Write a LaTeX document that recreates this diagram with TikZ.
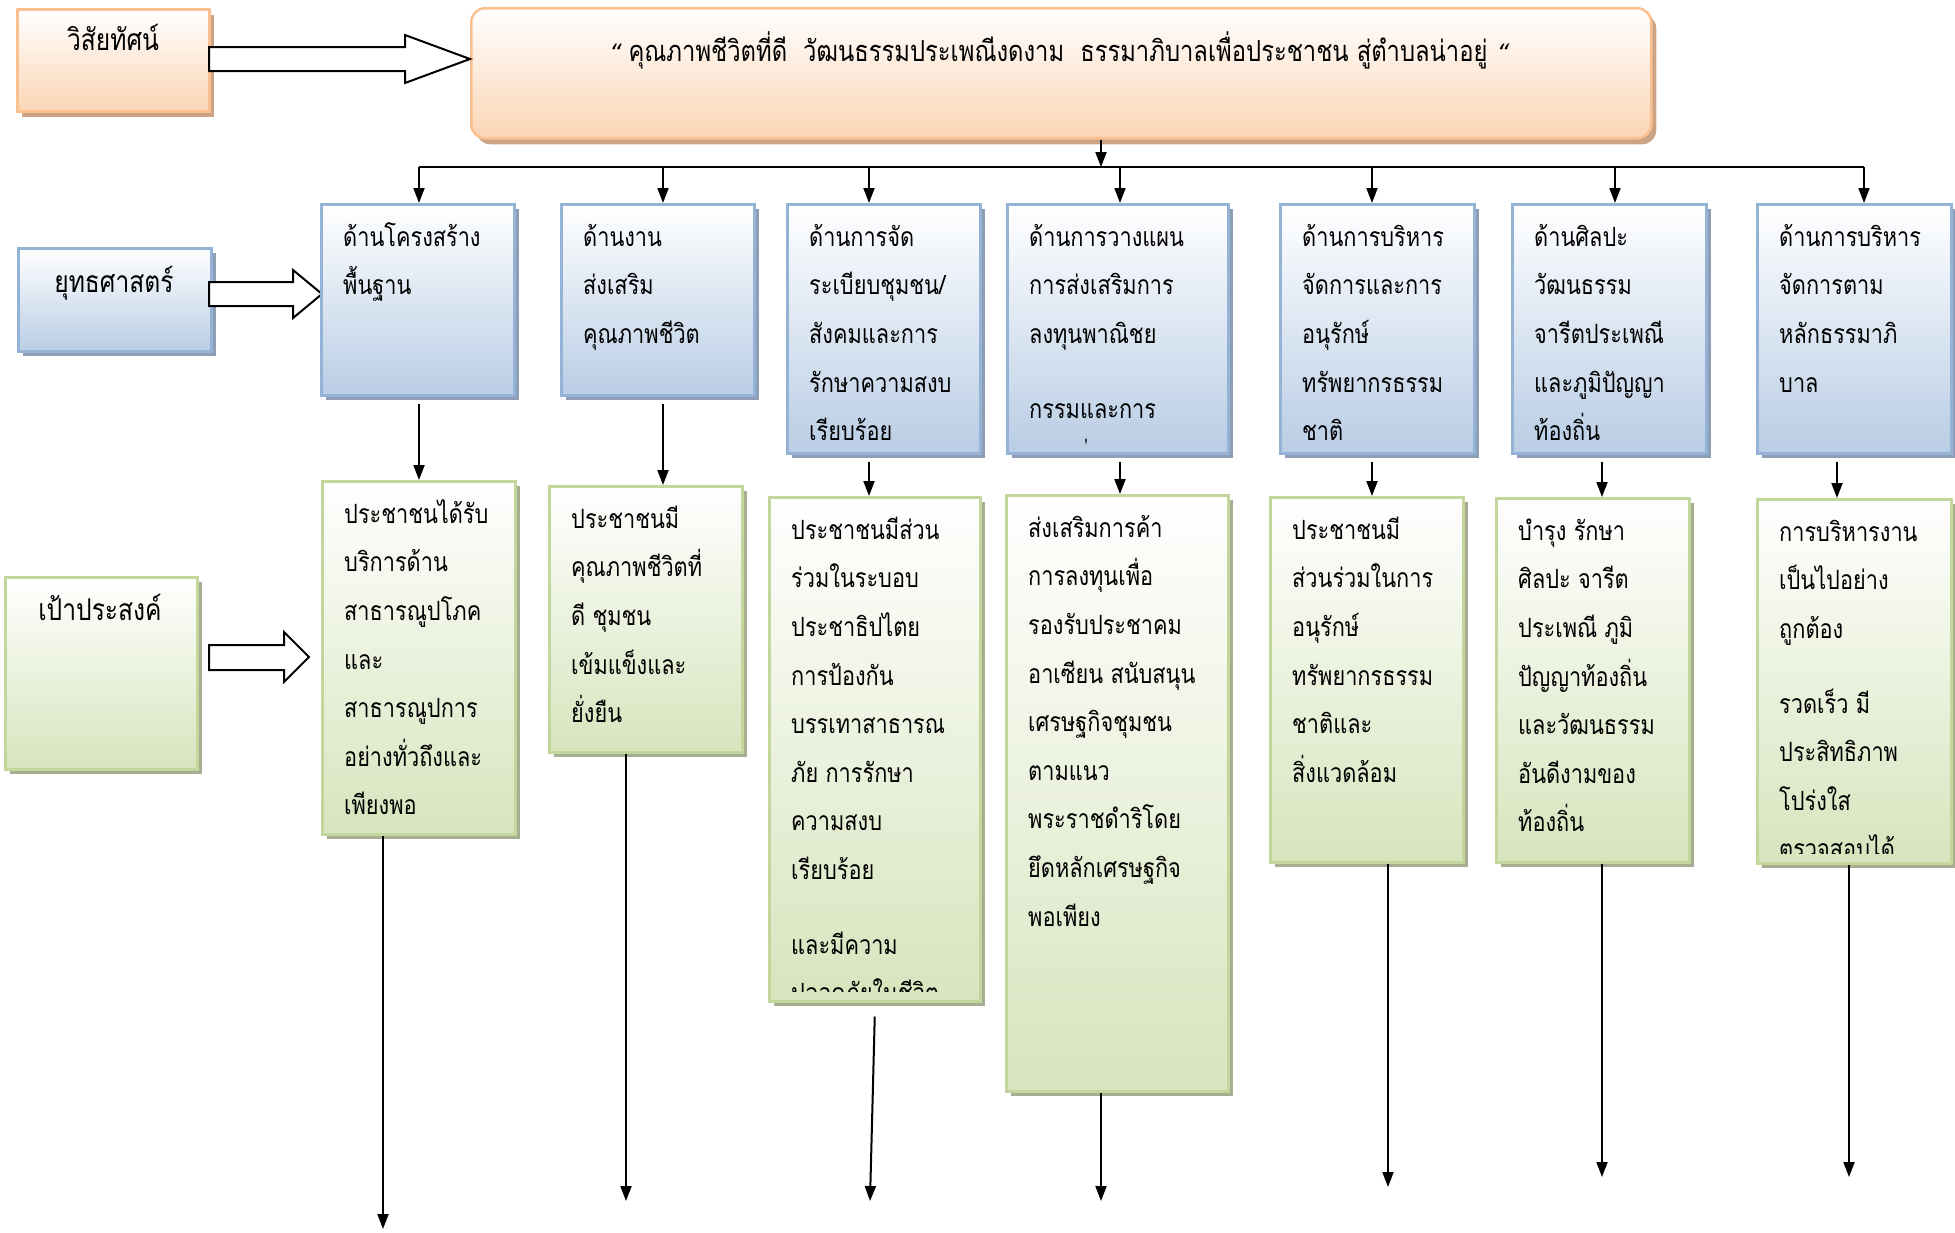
\documentclass[tikz,border=0pt]{standalone}
\usepackage{fontspec}
\newfontfamily\thaifont[Script=Thai, FakeStretch=0.82]{Loma}
\newfontfamily\quotefont[FakeSlant=0.2]{DejaVu Sans}
\usetikzlibrary{arrows.meta,shadows,calc}
\definecolor{bfill}{HTML}{B9CDE5}
\definecolor{bborder}{HTML}{95B3D7}
\definecolor{bshadow}{HTML}{8E9EB4}
\definecolor{gfill}{HTML}{D7E4BD}
\definecolor{gborder}{HTML}{C3D69B}
\definecolor{gshadow}{HTML}{A6AD91}
\definecolor{ofill}{HTML}{FBD5B5}
\definecolor{oborder}{HTML}{FAC08F}
\definecolor{oshadow}{HTML}{CCA485}
\tikzset{
  box/.style={draw, line width=2.5pt, inner sep=0pt, anchor=north west, shading=axis, top color=white},
  bluebox/.style={box, draw=bborder, bottom color=bfill,
    drop shadow={shadow xshift=5pt, shadow yshift=-5pt, fill=bshadow, opacity=1}},
  greenbox/.style={box, draw=gborder, bottom color=gfill,
    drop shadow={shadow xshift=5pt, shadow yshift=-5pt, fill=gshadow, opacity=1}},
  orangebox/.style={box, draw=oborder, bottom color=ofill,
    drop shadow={shadow xshift=5pt, shadow yshift=-6pt, fill=oshadow, opacity=1}},
  txt/.style={font=\thaifont\fontsize{26.5}{48.6}\selectfont, align=left, inner sep=0pt, anchor=north west},
  lbl/.style={font=\thaifont\fontsize{30}{34}\selectfont, inner sep=0pt, anchor=base},
  arr/.style={line width=2pt, -{Triangle[length=15pt,width=11pt]}},
  bigarrow/.style={draw=black, fill=white, line width=2pt, line join=miter},
}
\newcommand\boxtext[3]{%
  \begin{scope}
    \clip ($(#1.north west)+(2,2)$) rectangle ($(#1.south east)+(-2,-11)$);
    \node[txt] (#2) at ($(#1.north west)+(23,9)$) {\rule{0pt}{34pt}#3};
  \end{scope}}
\begin{document}
\begin{tikzpicture}[x=1pt,y=-1pt]
\useasboundingbox (0,0) rectangle (1955,1232);

% --- vision row
\node[orangebox, minimum width=192pt, minimum height=102pt] (vl) at (16,8) {};
\node[lbl] (vlt) at (113,50) {วิสัยทัศน์};
\node[orangebox, rounded corners=14pt, minimum width=1180pt, minimum height=130pt] (vis) at (470,7) {};
\node[lbl, font=\thaifont\fontsize{29}{34}\selectfont] (vist) at (1058,61) {{\quotefont\fontsize{24}{24}\selectfont“} คุณภาพชีวิตที่ดี\ \ วัฒนธรรมประเพณีงดงาม\ \ ธรรมาภิบาลเพื่อประชาชน สู่ตำบลน่าอยู่ {\quotefont\fontsize{24}{24}\selectfont“}};
\draw[bigarrow] (209,47) -- (405,47) -- (405,35) -- (470,59) -- (405,83) -- (405,71) -- (209,71) -- cycle;

% --- strategy row
\node[bluebox, minimum width=193pt, minimum height=103pt] (sl) at (17,247) {};
\node[lbl] (slt) at (114,292) {ยุทธศาสตร์};
\draw[bigarrow] (209,282) -- (293,282) -- (293,270) -- (322,294) -- (293,318) -- (293,306) -- (209,306) -- cycle;

\node[bluebox, minimum width=193pt, minimum height=191pt] (b1) at (320,203) {};
\node[bluebox, minimum width=193pt, minimum height=191pt] (b2) at (560,203) {};
\node[bluebox, minimum width=193pt, minimum height=249pt] (b3) at (786,203) {};
\node[bluebox, minimum width=221pt, minimum height=249pt] (b4) at (1006,203) {};
\node[bluebox, minimum width=194pt, minimum height=249pt] (b5) at (1279,203) {};
\node[bluebox, minimum width=194pt, minimum height=249pt] (b6) at (1511,203) {};
\node[bluebox, minimum width=194pt, minimum height=249pt] (b7) at (1756,203) {};

\boxtext{b1}{tb1}{ด้านโครงสร้าง\\พื้นฐาน}
\boxtext{b2}{tb2}{ด้านงาน\\ส่งเสริม\\คุณภาพชีวิต}
\boxtext{b3}{tb3}{ด้านการจัด\\ระเบียบชุมชน/\\สังคมและการ\\รักษาความสงบ\\เรียบร้อย}
\boxtext{b4}{tb4}{ด้านการวางแผน\\การส่งเสริมการ\\ลงทุนพาณิชย\\[26pt]กรรมและการ\\ท่องเที่ยว}
\boxtext{b5}{tb5}{ด้านการบริหาร\\จัดการและการ\\อนุรักษ์\\ทรัพยากรธรรม\\ชาติ}
\boxtext{b6}{tb6}{ด้านศิลปะ\\วัฒนธรรม\\จารีตประเพณี\\และภูมิปัญญา\\ท้องถิ่น}
\boxtext{b7}{tb7}{ด้านการบริหาร\\จัดการตาม\\หลักธรรมาภิ\\บาล}

% --- goal row
\node[greenbox, minimum width=192pt, minimum height=192pt] (gl) at (4,576) {};
\node[lbl] (glt) at (100,620) {เป้าประสงค์};
\draw[bigarrow] (209,645) -- (284,645) -- (284,632) -- (309,657) -- (284,682) -- (284,670) -- (209,670) -- cycle;

\node[greenbox, minimum width=193pt, minimum height=353pt] (g1) at (321,480) {};
\node[greenbox, minimum width=193pt, minimum height=266pt] (g2) at (548,485) {};
\node[greenbox, minimum width=211pt, minimum height=504pt] (g3) at (768,496) {};
\node[greenbox, minimum width=222pt, minimum height=596pt] (g4) at (1005,494) {};
\node[greenbox, minimum width=193pt, minimum height=365pt] (g5) at (1269,496) {};
\node[greenbox, minimum width=193pt, minimum height=364pt] (g6) at (1495,497) {};
\node[greenbox, minimum width=194pt, minimum height=364pt] (g7) at (1756,498) {};

\boxtext{g1}{tg1}{ประชาชนได้รับ\\บริการด้าน\\สาธารณูปโภค\\และ\\สาธารณูปการ\\อย่างทั่วถึงและ\\เพียงพอ}
\boxtext{g2}{tg2}{ประชาชนมี\\คุณภาพชีวิตที่\\ดี ชุมชน\\เข้มแข็งและ\\ยั่งยืน}
\boxtext{g3}{tg3}{ประชาชนมีส่วน\\ร่วมในระบอบ\\ประชาธิปไตย\\การป้องกัน\\บรรเทาสาธารณ\\ภัย การรักษา\\ความสงบ\\เรียบร้อย\\[26pt]และมีความ\\ปลอดภัยในชีวิต}
\boxtext{g4}{tg4}{ส่งเสริมการค้า\\การลงทุนเพื่อ\\รองรับประชาคม\\อาเซียน สนับสนุน\\เศรษฐกิจชุมชน\\ตามแนว\\พระราชดำริโดย\\ยึดหลักเศรษฐกิจ\\พอเพียง}
\boxtext{g5}{tg5}{ประชาชนมี\\ส่วนร่วมในการ\\อนุรักษ์\\ทรัพยากรธรรม\\ชาติและ\\สิ่งแวดล้อม}
\boxtext{g6}{tg6}{บำรุง รักษา\\ศิลปะ จารีต\\ประเพณี ภูมิ\\ปัญญาท้องถิ่น\\และวัฒนธรรม\\อันดีงามของ\\ท้องถิ่น}
\boxtext{g7}{tg7}{การบริหารงาน\\เป็นไปอย่าง\\ถูกต้อง\\[26pt]รวดเร็ว มี\\ประสิทธิภาพ\\โปร่งใส\\ตรวจสอบได้}

% --- top bus
\coordinate (bm) at (1101,167);
\coordinate (d1) at (419,167);
\coordinate (d2) at (663,167);
\coordinate (d3) at (869,167);
\coordinate (d4) at (1120,167);
\coordinate (d5) at (1372,167);
\coordinate (d6) at (1615,167);
\coordinate (d7) at (1864,167);
\draw[arr] (vis.south -| bm) -- (bm);
\draw[line width=2pt] (d1) -- (d7);
\foreach \i in {1,...,7} { \draw[arr] (d\i) -- (d\i |- b\i.north); }

% --- strategy to goal arrows
\coordinate (m1) at (419,0);
\coordinate (m2) at (663,0);
\coordinate (m3) at (869,0);
\coordinate (m4) at (1120,0);
\coordinate (m5) at (1372,0);
\coordinate (m6) at (1602,0);
\coordinate (m7) at (1837,0);
\foreach \i in {1,...,7} { \draw[arr] ($(b\i.south -| m\i)+(0,7)$) -- (g\i.north -| m\i); }

% --- bottom arrows
\coordinate (e1) at (383,1229);
\coordinate (e2) at (626,1201);
\coordinate (e3) at (870,1201);
\coordinate (e4) at (1101,1201);
\coordinate (e5) at (1388,1187);
\coordinate (e6) at (1602,1177);
\coordinate (e7) at (1849,1177);
\draw[arr] (g1.south -| e1) -- (e1);
\draw[arr] (g2.south -| e2) -- (e2);
\draw[arr] ($(g3.south)+(0,14)$) -- (e3);
\draw[arr] (g4.south -| e4) -- (e4);
\draw[arr] (g5.south -| e5) -- (e5);
\draw[arr] (g6.south -| e6) -- (e6);
\draw[arr] (g7.south -| e7) -- (e7);
\end{tikzpicture}
\end{document}
